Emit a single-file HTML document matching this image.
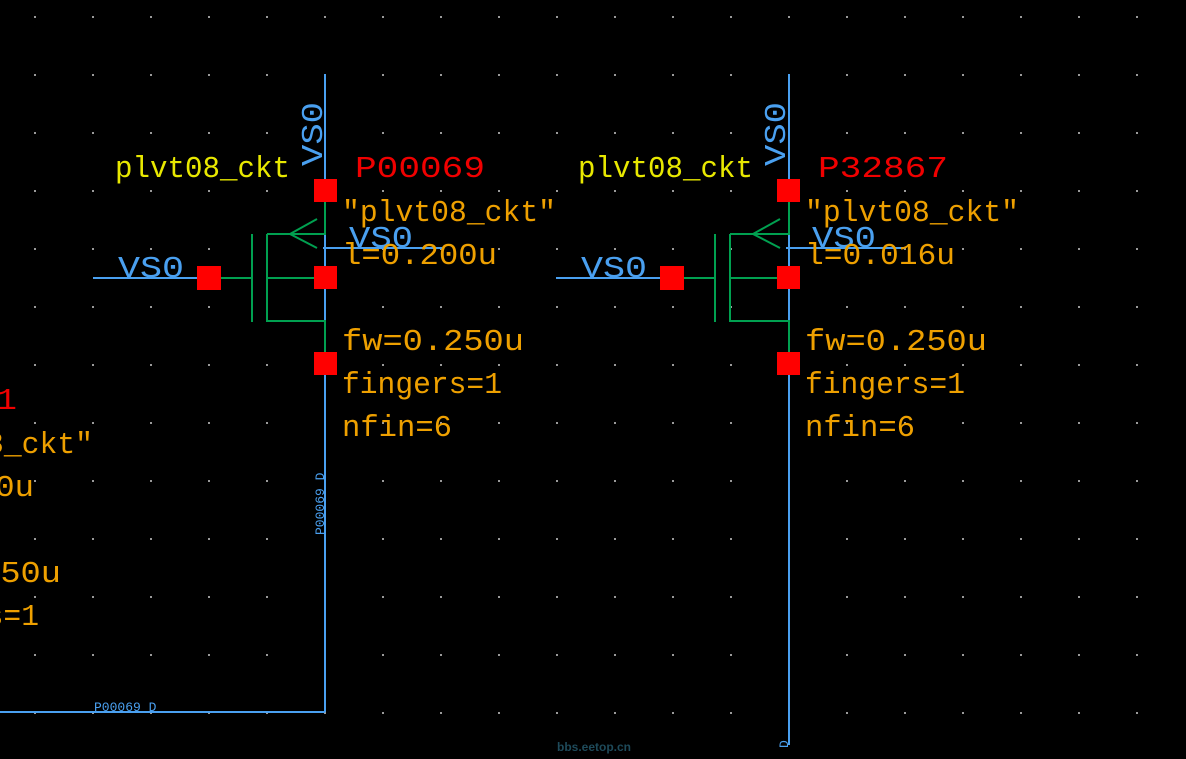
<!DOCTYPE html>
<html><head><meta charset="utf-8"><style>
html,body{margin:0;padding:0;background:#000;overflow:hidden}
svg{display:block}
.m{font-family:"Liberation Mono",monospace;font-size:31px}
.y{fill:#e8e800}.r{fill:#f00000}.o{fill:#eea000}.b{fill:#4aa0f0}
</style></head><body>
<svg width="1186" height="759" viewBox="0 0 1186 759" xmlns="http://www.w3.org/2000/svg">
<defs>
<pattern id="g" x="35" y="17" width="58" height="58" patternUnits="userSpaceOnUse">
<rect x="0" y="0" width="2" height="2" fill="#9a9a9a"/>
</pattern>
</defs>
<rect width="1186" height="759" fill="#000"/>
<rect x="0" y="0" width="1186" height="759" fill="url(#g)" transform="translate(-1,-1)"/>

<line x1="0" y1="712" x2="325" y2="712" stroke="#4aa0f0" stroke-width="2"/>
<text x="94" y="711" font-family="Liberation Mono,monospace" font-size="13" fill="#4aa0f0">P00069 D</text>
<text transform="translate(324,535) rotate(-90)" font-family="Liberation Mono,monospace" font-size="13" fill="#4aa0f0">P00069 D</text>
<line x1="789" y1="74" x2="789" y2="745" stroke="#4aa0f0" stroke-width="2"/>
<text transform="translate(788,748) rotate(-90)" font-family="Liberation Mono,monospace" font-size="13" fill="#4aa0f0">D</text>
<text x="557" y="751" font-family="Liberation Sans,sans-serif" font-weight="bold" font-size="12" fill="#1e4a5a">bbs.eetop.cn</text>

<g>
<line x1="325" y1="74" x2="325" y2="712" stroke="#4aa0f0" stroke-width="2"/>
<line x1="93" y1="278" x2="200" y2="278" stroke="#4aa0f0" stroke-width="2"/>
<line x1="323" y1="248" x2="442" y2="248" stroke="#4aa0f0" stroke-width="2"/>
<g stroke="#00a050" stroke-width="2" fill="none">
<polyline points="325,200 325,234 267,234"/>
<line x1="290" y1="234" x2="317" y2="219"/><line x1="290" y1="234" x2="317" y2="248"/>
<line x1="252" y1="234" x2="252" y2="322"/><line x1="267" y1="234" x2="267" y2="322"/>
<line x1="221" y1="278" x2="252" y2="278"/><line x1="267" y1="278" x2="314" y2="278"/>
<polyline points="267,321 325,321 325,352"/>
</g>
<rect x="314" y="179" width="23" height="23" fill="#ff0000"/>
<rect x="197" y="266" width="24" height="24" fill="#ff0000"/>
<rect x="314" y="266" width="23" height="23" fill="#ff0000"/>
<rect x="314" y="352" width="23" height="23" fill="#ff0000"/>
<text transform="translate(322,166) rotate(-90)" class="m b" font-size="26" textLength="64" lengthAdjust="spacingAndGlyphs">VS0</text>
<text x="118" y="277" class="m b" font-size="28" textLength="66" lengthAdjust="spacingAndGlyphs">VS0</text>
<text x="349" y="247" class="m b" font-size="28" textLength="64" lengthAdjust="spacingAndGlyphs">VS0</text>
<text x="115" y="177" class="m y" textLength="175" lengthAdjust="spacingAndGlyphs">plvt08_ckt</text>
<text x="355" y="177" class="m r" textLength="130" lengthAdjust="spacingAndGlyphs">P00069</text>
<text x="342" y="221" class="m o" textLength="214" lengthAdjust="spacingAndGlyphs">"plvt08_ckt"</text>
<text x="342" y="264" class="m o" textLength="155" lengthAdjust="spacingAndGlyphs">l=0.200u</text>
<text x="342" y="350" class="m o" textLength="182" lengthAdjust="spacingAndGlyphs">fw=0.250u</text>
<text x="342" y="393" class="m o" textLength="160" lengthAdjust="spacingAndGlyphs">fingers=1</text>
<text x="342" y="436" class="m o" textLength="110" lengthAdjust="spacingAndGlyphs">nfin=6</text>
</g>

<g transform="translate(463,0)">
<line x1="93" y1="278" x2="200" y2="278" stroke="#4aa0f0" stroke-width="2"/>
<line x1="323" y1="248" x2="442" y2="248" stroke="#4aa0f0" stroke-width="2"/>
<g stroke="#00a050" stroke-width="2" fill="none">
<polyline points="326,200 326,234 267,234"/>
<line x1="290" y1="234" x2="317" y2="219"/><line x1="290" y1="234" x2="317" y2="248"/>
<line x1="252" y1="234" x2="252" y2="322"/><line x1="267" y1="234" x2="267" y2="322"/>
<line x1="221" y1="278" x2="252" y2="278"/><line x1="267" y1="278" x2="314" y2="278"/>
<polyline points="267,321 326,321 326,352"/>
</g>
<rect x="314" y="179" width="23" height="23" fill="#ff0000"/>
<rect x="197" y="266" width="24" height="24" fill="#ff0000"/>
<rect x="314" y="266" width="23" height="23" fill="#ff0000"/>
<rect x="314" y="352" width="23" height="23" fill="#ff0000"/>
<text transform="translate(322,166) rotate(-90)" class="m b" font-size="26" textLength="64" lengthAdjust="spacingAndGlyphs">VS0</text>
<text x="118" y="277" class="m b" font-size="28" textLength="66" lengthAdjust="spacingAndGlyphs">VS0</text>
<text x="349" y="247" class="m b" font-size="28" textLength="64" lengthAdjust="spacingAndGlyphs">VS0</text>
<text x="115" y="177" class="m y" textLength="175" lengthAdjust="spacingAndGlyphs">plvt08_ckt</text>
<text x="355" y="177" class="m r" textLength="130" lengthAdjust="spacingAndGlyphs">P32867</text>
<text x="342" y="221" class="m o" textLength="214" lengthAdjust="spacingAndGlyphs">"plvt08_ckt"</text>
<text x="342" y="264" class="m o" textLength="150" lengthAdjust="spacingAndGlyphs">l=0.016u</text>
<text x="342" y="350" class="m o" textLength="182" lengthAdjust="spacingAndGlyphs">fw=0.250u</text>
<text x="342" y="393" class="m o" textLength="160" lengthAdjust="spacingAndGlyphs">fingers=1</text>
<text x="342" y="436" class="m o" textLength="110" lengthAdjust="spacingAndGlyphs">nfin=6</text>
</g>

<g transform="translate(-463,232)">
<text x="355" y="177" class="m r" textLength="125" lengthAdjust="spacingAndGlyphs">P00001</text>
<text x="342" y="221" class="m o" textLength="214" lengthAdjust="spacingAndGlyphs">"plvt08_ckt"</text>
<text x="342" y="264" class="m o" textLength="155" lengthAdjust="spacingAndGlyphs">l=0.200u</text>
<text x="342" y="350" class="m o" textLength="182" lengthAdjust="spacingAndGlyphs">fw=0.250u</text>
<text x="342" y="393" class="m o" textLength="160" lengthAdjust="spacingAndGlyphs">fingers=1</text>
</g>
</svg>
</body></html>
